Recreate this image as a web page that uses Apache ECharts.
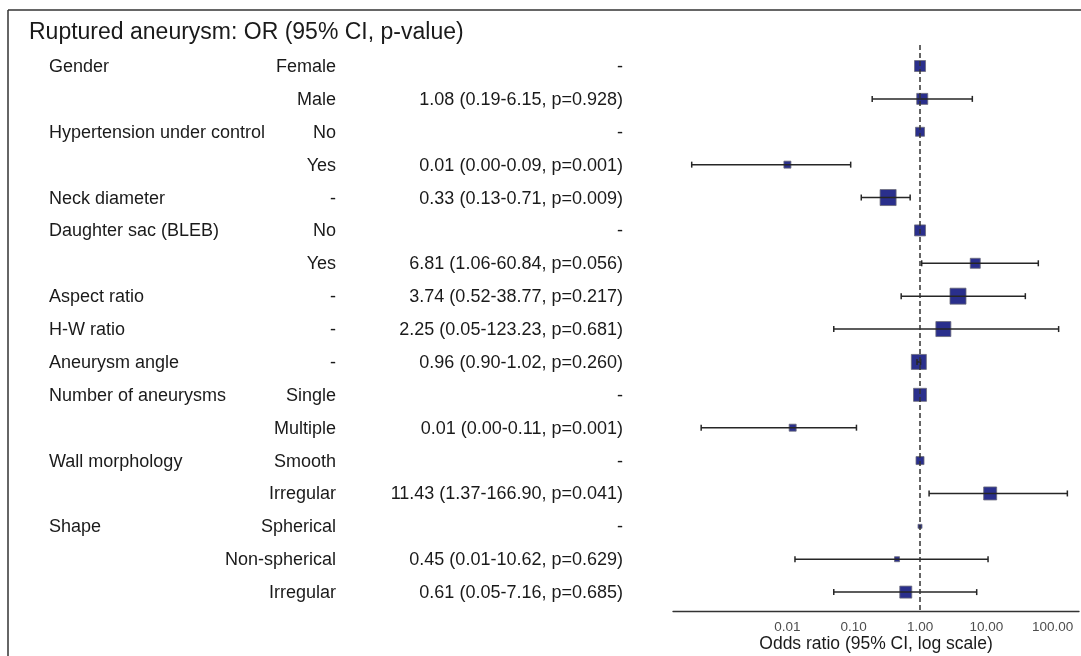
<!DOCTYPE html>
<html>
<head>
<meta charset="utf-8">
<script src="https://cdn.jsdelivr.net/npm/echarts@6/dist/echarts.min.js"></script>
<style>
  html, body { margin: 0; padding: 0; background: #fff; }
  #chart { width: 1081px; height: 656px; }
</style>
</head>
<body>
<div id="chart"></div>
<script>
// table columns, one entry per row (top to bottom)
const groups = ['Gender', '', 'Hypertension under control', '', 'Neck diameter', 'Daughter sac (BLEB)', '',
  'Aspect ratio', 'H-W ratio', 'Aneurysm angle', 'Number of aneurysms', '', 'Wall morphology', '', 'Shape', '', ''];
const levels = ['Female', 'Male', 'No', 'Yes', '-', 'No', 'Yes', '-', '-', '-', 'Single', 'Multiple',
  'Smooth', 'Irregular', 'Spherical', 'Non-spherical', 'Irregular'];
const orLabels = ['-', '1.08 (0.19-6.15, p=0.928)', '-', '0.01 (0.00-0.09, p=0.001)', '0.33 (0.13-0.71, p=0.009)',
  '-', '6.81 (1.06-60.84, p=0.056)', '3.74 (0.52-38.77, p=0.217)', '2.25 (0.05-123.23, p=0.681)',
  '0.96 (0.90-1.02, p=0.260)', '-', '0.01 (0.00-0.11, p=0.001)', '-', '11.43 (1.37-166.90, p=0.041)',
  '-', '0.45 (0.01-10.62, p=0.629)', '0.61 (0.05-7.16, p=0.685)'];

// plotted estimates (reference levels sit at 1 with no interval)
const oddsRatio = [1, 1.08, 1, 0.01, 0.33, 1, 6.81, 3.74, 2.25, 0.96, 1, 0.012, 1, 11.43, 1, 0.45, 0.61];
const ciLower = [null, 0.19, null, 0.00036, 0.13, null, 1.06, 0.52, 0.05, 0.90, null, 0.0005, null, 1.37, null, 0.013, 0.05];
const ciUpper = [null, 6.15, null, 0.09, 0.71, null, 60.84, 38.77, 123.23, 1.02, null, 0.11, null, 166.90, null, 10.62, 7.16];
const boxSize = [11, 11, 9, 7, 16, 11, 10, 16, 15, 15, 13, 7, 8, 13, 4, 5, 12];

const FONT = '"Liberation Sans", Arial, sans-serif';
const chart = echarts.init(document.getElementById('chart'));

const rows = groups.map((g, i) => i);
const ciData = rows.filter(i => ciLower[i] != null).map(i => [ciLower[i], ciUpper[i], i]);
const boxData = rows.map(i => ({ value: [oddsRatio[i], i], symbolSize: boxSize[i] }));
const textData = rows.map(i => [1, i]);

const option = {
  animation: false,
  backgroundColor: '#fff',
  title: {
    text: 'Ruptured aneurysm: OR (95% CI, p-value)',
    left: 29,
    top: 21,
    padding: 0,
    textStyle: { fontFamily: FONT, fontSize: 23, fontWeight: 'normal', color: '#1a1a1a' }
  },
  graphic: [
    { type: 'line', shape: { x1: 8, y1: 10, x2: 1081, y2: 10 }, style: { stroke: '#333', lineWidth: 1.5 } },
    { type: 'line', shape: { x1: 8, y1: 10, x2: 8, y2: 656 }, style: { stroke: '#333', lineWidth: 1.5 } }
  ],
  grid: { left: 673, right: 2, top: 45, bottom: 45, outerBoundsMode: 'none', containLabel: false },
  xAxis: {
    type: 'log',
    logBase: 10,
    min: 0.000188,
    max: 250,
    name: 'Odds ratio (95% CI, log scale)',
    nameLocation: 'middle',
    nameMoveOverlap: false,
    nameGap: 24,
    nameTextStyle: { fontFamily: FONT, fontSize: 17.5, color: '#1a1a1a' },
    axisLine: { onZero: false, lineStyle: { color: '#333', width: 1.3 } },
    axisTick: { show: false },
    splitLine: { show: false },
    axisLabel: {
      margin: 9,
      fontFamily: FONT,
      fontSize: 13.5,
      color: '#4d4d4d',
      showMinLabel: false,
      showMaxLabel: false,
      formatter: function (v) {
        const e = Math.log10(v);
        if (Math.abs(e - Math.round(e)) > 1e-6 || e < -2.01 || e > 2.01) return '';
        return Math.pow(10, Math.round(e)).toFixed(2);
      }
    }
  },
  yAxis: {
    type: 'value',
    inverse: true,
    min: -0.639,
    max: 16.575,
    show: false
  },
  series: [
    {
      // left-hand table text
      type: 'custom',
      data: textData,
      encode: { x: 0, y: 1 },
      silent: true,
      renderItem: function (params, api) {
        const i = api.value(1);
        const y = api.coord([1, i])[1] + 1;
        const mk = (txt, x, align) => ({
          type: 'text',
          x: x, y: y,
          style: { text: txt, font: '18px ' + FONT, fill: '#1a1a1a', align: align, verticalAlign: 'middle' }
        });
        return { type: 'group', children: [mk(groups[i], 49, 'left'), mk(levels[i], 336, 'right'), mk(orLabels[i], 623, 'right')] };
      }
    },
    {
      type: 'scatter',
      symbol: 'rect',
      data: boxData,
      z: 2,
      itemStyle: { color: '#2a2f8c', borderColor: '#6b6b7a', borderWidth: 0.8, opacity: 1 },
      markLine: {
        silent: true,
        symbol: 'none',
        label: { show: false },
        lineStyle: { color: '#333', type: [5, 3], width: 1.5 },
        data: [{ xAxis: 1 }],
        z: 5
      }
    },
    {
      // confidence intervals with end caps
      type: 'custom',
      data: ciData,
      encode: { x: [0, 1], y: 2 },
      z: 4,
      silent: true,
      renderItem: function (params, api) {
        const i = api.value(2);
        const a = api.coord([api.value(0), i]);
        const b = api.coord([api.value(1), i]);
        const st = { stroke: '#262626', lineWidth: 1.5 };
        return {
          type: 'group',
          children: [
            { type: 'line', shape: { x1: a[0], y1: a[1], x2: b[0], y2: b[1] }, style: st },
            { type: 'line', shape: { x1: a[0], y1: a[1] - 3, x2: a[0], y2: a[1] + 3 }, style: st },
            { type: 'line', shape: { x1: b[0], y1: b[1] - 3, x2: b[0], y2: b[1] + 3 }, style: st }
          ]
        };
      }
    }
  ]
};

chart.setOption(option);
</script>
</body>
</html>
